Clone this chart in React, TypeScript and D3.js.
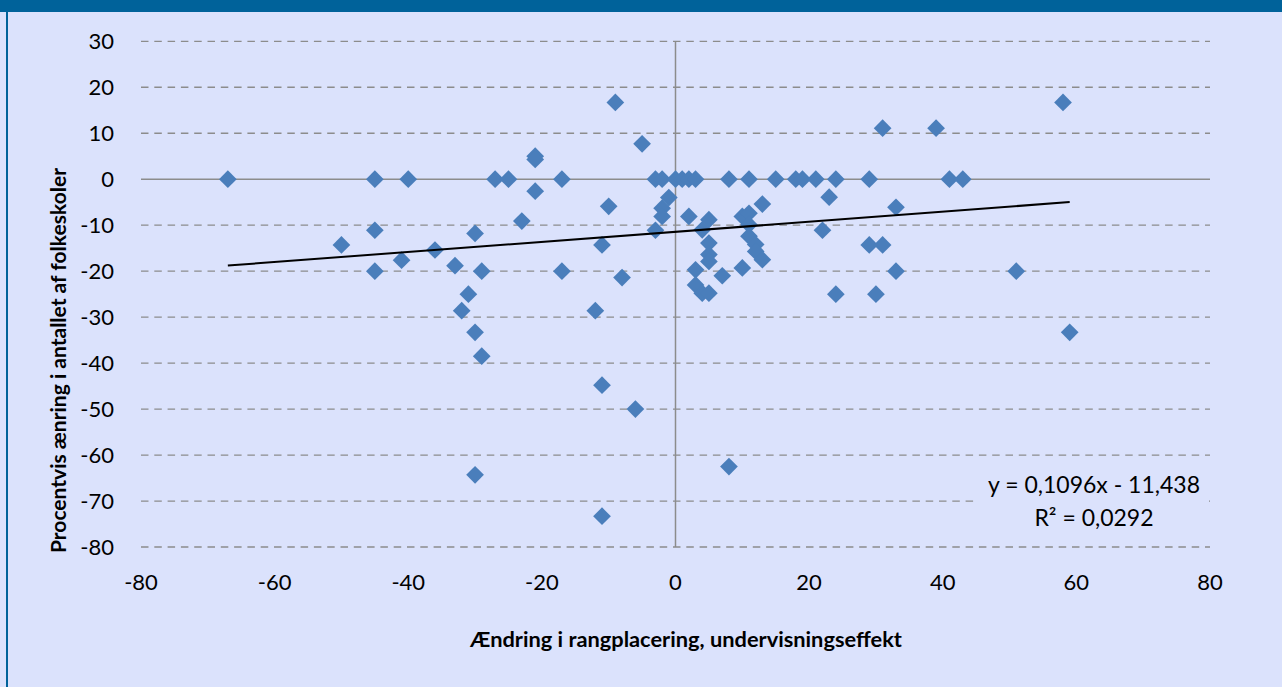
import { useEffect, useRef } from "react";
import { select, scaleLinear, line, symbol, symbolDiamond2, extent } from "d3";

// ændring i rangplacering (x) og procentvis ændring i antal skoler (y)
const rankChange = [
  -67, -50, -45, -45, -45, -41, -40, -36, -33, -32, -31, -30, -30, -30, -29, -29,
  -27, -25, -23, -21, -21, -21, -17, -17, -12, -11, -11, -11, -10, -9, -8, -6,
  -5, -3, -3, -2, -2, -2, -1, 0, 1, 2, 2, 3, 3, 3, 4, 4, 5, 5, 5, 5, 5, 7, 8, 8,
  10, 10, 11, 11, 11, 11, 12, 12, 13, 13, 15, 18, 19, 21, 22, 23, 24, 24, 29, 29,
  30, 31, 31, 33, 33, 39, 41, 43, 51, 58, 59,
];
const schoolChange = [
  0, -14.3, 0, -11.1, -20, -17.6, 0, -15.4, -18.8, -28.6, -25, -11.8, -33.3, -64.3, -20, -38.5,
  0, 0, -9.1, 5, 4.3, -2.6, 0, -20, -28.6, -14.3, -44.8, -73.3, -5.9, 16.7, -21.4, -50,
  7.7, 0, -11.1, 0, -6.3, -8.1, -4, 0, 0, 0, -8.1, 0, -19.7, -23, -11, -24.8, -8.8, -13.9, -16.4, -17.9, -24.8, -21, 0, -62.5,
  -8.1, -19.3, 0, -7.4, -9.9, -12.4, -14.2, -15.7, -5.4, -17.5, 0, 0, 0, 0, -11.1, -3.9, 0, -25, 0, -14.3,
  -25, 11.1, -14.3, -6.1, -20, 11.1, 0, 0, -20, 16.7, -33.3,
];

const xTicks = [-80, -60, -40, -20, 0, 20, 40, 60, 80];
const yTicks = [30, 20, 10, 0, -10, -20, -30, -40, -50, -60, -70, -80];

// lineær tendenslinje fra Excel
const slope = 0.1096;
const intercept = -11.438;
const equationLines = ["y = 0,1096x - 11,438", "R² = 0,0292"];

const xTitle = "Ændring i rangplacering, undervisningseffekt";
const yTitle = "Procentvis ænring i antallet af folkeskoler";

const W = 1282;
const H = 687;
const FONT = "Lato, 'Open Sans', sans-serif";
const BG = "#dbe2fc";
const HEADER = "#00629a";
const MARKER = "#4a7ebb";
const GRID = "#8c8c8c";

export default function App() {
  const svgRef = useRef<SVGSVGElement>(null);

  useEffect(() => {
    document.body.style.margin = "0";
    const svg = select(svgRef.current);
    svg.selectAll("*").remove();

    svg.append("rect").attr("width", W).attr("height", H).attr("fill", BG);
    svg.append("rect").attr("width", W).attr("height", 12).attr("fill", HEADER);
    svg
      .append("line")
      .attr("x1", 7)
      .attr("x2", 7)
      .attr("y1", 12)
      .attr("y2", H)
      .attr("stroke", HEADER)
      .attr("stroke-width", 2);

    const x = scaleLinear().domain([-80, 80]).range([141, 1210]);
    const y = scaleLinear().domain([-80, 30]).range([547, 41.3]);

    // gitterlinjer
    yTicks.forEach((t) => {
      if (t === 0) return;
      svg
        .append("line")
        .attr("x1", x(-80))
        .attr("x2", x(80))
        .attr("y1", y(t))
        .attr("y2", y(t))
        .attr("stroke", GRID)
        .attr("stroke-width", 1.3)
        .attr("stroke-dasharray", "7.5,5.8");
    });

    // nul-akser
    svg
      .append("line")
      .attr("x1", x(-80))
      .attr("x2", x(80))
      .attr("y1", y(0))
      .attr("y2", y(0))
      .attr("stroke", GRID)
      .attr("stroke-width", 1.5);
    svg
      .append("line")
      .attr("x1", x(0))
      .attr("x2", x(0))
      .attr("y1", y(30))
      .attr("y2", y(-80))
      .attr("stroke", GRID)
      .attr("stroke-width", 1.5);

    // tick labels
    svg
      .append("g")
      .selectAll("text")
      .data(yTicks)
      .join("text")
      .attr("x", 114)
      .attr("y", (d) => y(d))
      .attr("dy", "0.35em")
      .attr("text-anchor", "end")
      .attr("font-family", FONT)
      .attr("font-size", 22)
      .attr("fill", "#000")
      .text((d) => d);

    svg
      .append("g")
      .selectAll("text")
      .data(xTicks)
      .join("text")
      .attr("x", (d) => x(d))
      .attr("y", 590)
      .attr("text-anchor", "middle")
      .attr("font-family", FONT)
      .attr("font-size", 22)
      .attr("fill", "#000")
      .text((d) => d);

    // punkter
    const diamond = symbol().type(symbolDiamond2).size(200)();
    svg
      .append("g")
      .selectAll("path")
      .data(rankChange.map((r, i) => [r, schoolChange[i]]))
      .join("path")
      .attr("d", diamond)
      .attr("transform", (d) => `translate(${x(d[0])},${y(d[1])})`)
      .attr("fill", MARKER);

    // tendenslinje
    const [x0, x1] = extent(rankChange) as [number, number];
    svg
      .append("path")
      .datum([x0, x1])
      .attr("fill", "none")
      .attr("stroke", "#000")
      .attr("stroke-width", 2)
      .attr(
        "d",
        line<number>()
          .x((d) => x(d))
          .y((d) => y(slope * d + intercept)),
      );

    // ligning
    svg
      .append("rect")
      .attr("x", 977)
      .attr("y", 470)
      .attr("width", 232)
      .attr("height", 64)
      .attr("fill", BG);
    svg
      .append("g")
      .selectAll("text")
      .data(equationLines)
      .join("text")
      .attr("x", 1094)
      .attr("y", (_, i) => 493 + i * 33)
      .attr("text-anchor", "middle")
      .attr("font-family", FONT)
      .attr("font-size", 23)
      .attr("fill", "#000")
      .text((d) => d);

    // aksetitler
    svg
      .append("text")
      .attr("x", 686)
      .attr("y", 647)
      .attr("text-anchor", "middle")
      .attr("font-family", FONT)
      .attr("font-weight", "bold")
      .attr("font-size", 21.8)
      .attr("fill", "#000")
      .text(xTitle);
    svg
      .append("text")
      .attr("transform", "translate(66,553) rotate(-90)")
      .attr("font-family", FONT)
      .attr("font-weight", "bold")
      .attr("font-size", 21)
      .attr("fill", "#000")
      .text(yTitle);
  }, []);

  return <svg ref={svgRef} width={W} height={H} style={{ display: "block" }} />;
}
